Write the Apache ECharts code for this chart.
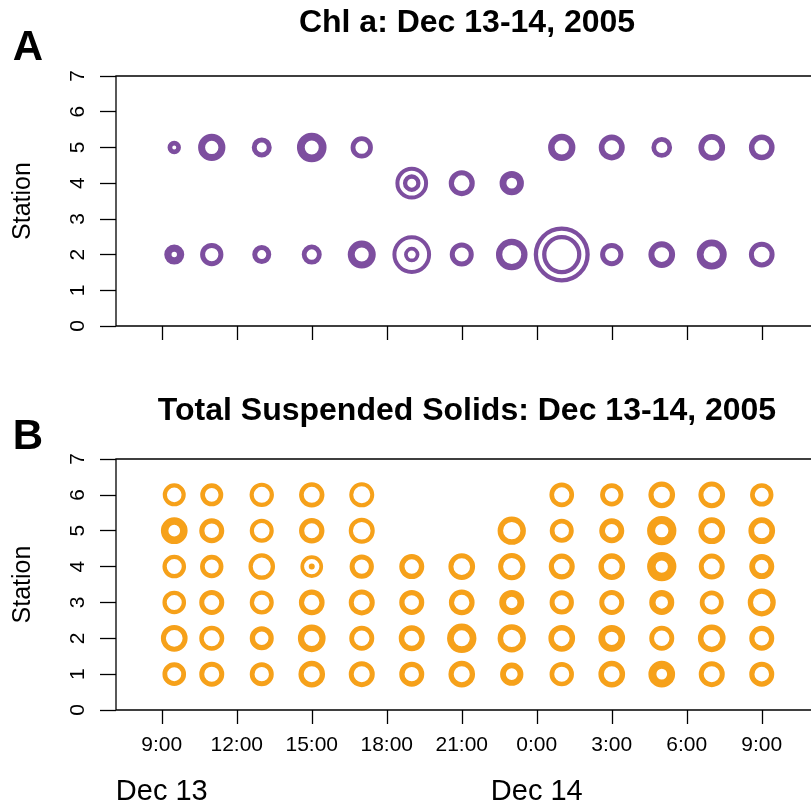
<!DOCTYPE html>
<html>
<head>
<meta charset="utf-8">
<script src="https://cdn.jsdelivr.net/npm/echarts@6/dist/echarts.min.js"></script>
<style>
  html, body { margin: 0; padding: 0; background: #ffffff; }
  #chart { width: 811px; height: 806px; }
</style>
</head>
<body>
<div id="chart"></div>
<script>
// Sampling times, hours since Dec 13 00:00
const hours = [9.5, 11, 13, 15, 17, 19, 21, 23, 25, 27, 29, 31, 33];

// Axis ticks along the time axis
const tickHours = [9, 12, 15, 18, 21, 24, 27, 30, 33];
const tickLabels = ['9:00', '12:00', '15:00', '18:00', '21:00', '0:00', '3:00', '6:00', '9:00'];
const dayHours = [9, 24];
const dayLabels = ['Dec 13', 'Dec 14'];

// Chl a rings: symbol scale (cex) and ring weight (lwd) per station, aligned with hours
const chlCex5 = [0.87, 2.03, 1.50, 2.18, 1.75, null, null, null, 2.08, 2.03, 1.60, 2.10, 2.02];
const chlLwd5 = [4.7, 7.0, 5.0, 7.8, 4.8, null, null, null, 6.5, 5.7, 4.7, 5.7, 5.5];
const chlCex4 = [null, null, null, null, null, 2.87, 2.08, 1.75, null, null, null, null, null];
const chlLwd4 = [null, null, null, null, null, 4.0, 5.2, 6.8, null, null, null, null, null];
const chlCex4b = [null, null, null, null, null, 1.33, null, null, null, null, null, null, null];
const chlLwd4b = [null, null, null, null, null, 4.3, null, null, null, null, null, null, null];
const chlCex2 = [1.27, 1.83, 1.40, 1.52, 2.10, 3.47, 1.90, 2.53, 5.17, 1.83, 2.07, 2.32, 2.07];
const chlLwd2 = [7.3, 5.0, 5.0, 4.8, 7.0, 4.0, 5.0, 6.3, 4.3, 5.0, 6.0, 6.8, 5.0];
const chlCex2b = [null, null, null, null, null, 1.17, null, null, 3.50, null, null, null, null];
const chlLwd2b = [null, null, null, null, null, 3.7, null, null, 4.3, null, null, null, null];

// Total suspended solids rings per station
const tssCex6 = [1.88, 1.83, 2.02, 2.07, 2.10, null, null, null, 2.00, 1.85, 2.15, 2.17, 1.87];
const tssLwd6 = [4.2, 4.7, 4.2, 4.7, 4.0, null, null, null, 4.7, 4.8, 5.2, 5.0, 4.7];
const tssCex5 = [1.92, 1.98, 1.98, 2.02, 2.18, null, null, 2.28, 1.92, 1.93, 2.13, 2.10, 2.10];
const tssLwd5 = [7.5, 5.2, 4.2, 5.2, 4.2, null, null, 5.5, 4.8, 5.7, 8.0, 5.7, 5.7];
const tssCex4 = [1.93, 1.87, 2.23, 1.90, 1.93, 1.97, 2.17, 2.23, 2.08, 2.12, 2.08, 2.10, 1.92];
const tssLwd4 = [4.3, 4.7, 4.3, 3.7, 5.0, 5.3, 5.0, 5.0, 5.2, 5.5, 8.5, 5.0, 5.8];
const tssCex4b = [null, null, null, 0.30, null, null, null, null, null, null, null, null, null];
const tssLwd4b = [null, null, null, 3.0, null, null, null, null, null, null, null, null, null];
const tssCex3 = [1.93, 2.00, 1.97, 2.05, 2.10, 1.97, 2.05, 1.82, 1.93, 2.00, 1.87, 1.92, 2.27];
const tssLwd3 = [4.3, 5.0, 4.3, 5.2, 5.0, 5.3, 5.2, 6.8, 5.0, 5.0, 6.3, 4.8, 5.3];
const tssCex2 = [2.17, 2.05, 1.87, 2.15, 2.02, 2.05, 2.27, 2.28, 2.12, 2.00, 2.02, 2.22, 1.98];
const tssLwd2 = [5.0, 4.5, 5.3, 6.2, 4.8, 5.5, 6.7, 5.5, 5.5, 6.7, 4.8, 5.5, 5.2];
const tssCex1 = [1.88, 2.00, 1.92, 2.13, 2.10, 1.97, 2.13, 1.75, 1.97, 2.12, 1.87, 2.10, 1.98];
const tssLwd1 = [4.8, 5.0, 4.8, 5.3, 5.0, 5.3, 5.3, 5.8, 4.7, 5.5, 8.0, 5.0, 5.2];

const FONT = '"Liberation Sans", Arial, Helvetica, sans-serif';
const PURPLE = '#7d4e9f';
const ORANGE = '#f6a11a';
const CEX_PX = 10;   // pixels per unit of symbol scale
const X_MIN = 7.17;
const X_MAX = 35.37;
const PLOT_W = 705;  // plot box runs past the right edge of the canvas

function rings(station, cex, lwd, color) {
  const out = [];
  hours.forEach((h, i) => {
    if (cex[i] == null) return;
    out.push({
      value: [h, station],
      symbolSize: cex[i] * CEX_PX,
      itemStyle: { color: 'rgba(0,0,0,0)', borderColor: color, borderWidth: lwd[i], opacity: 1 }
    });
  });
  return out;
}

const chlData = [].concat(
  rings(5, chlCex5, chlLwd5, PURPLE),
  rings(4, chlCex4, chlLwd4, PURPLE),
  rings(4, chlCex4b, chlLwd4b, PURPLE),
  rings(2, chlCex2, chlLwd2, PURPLE),
  rings(2, chlCex2b, chlLwd2b, PURPLE)
);
const tssData = [].concat(
  rings(6, tssCex6, tssLwd6, ORANGE),
  rings(5, tssCex5, tssLwd5, ORANGE),
  rings(4, tssCex4, tssLwd4, ORANGE),
  rings(4, tssCex4b, tssLwd4b, ORANGE),
  rings(3, tssCex3, tssLwd3, ORANGE),
  rings(2, tssCex2, tssLwd2, ORANGE),
  rings(1, tssCex1, tssLwd1, ORANGE)
);

function yAxisFor(gridIndex) {
  return {
    type: 'value', gridIndex: gridIndex, min: 0, max: 7, interval: 1,
    name: 'Station', nameLocation: 'middle', nameGap: 80, nameRotate: 90,
    nameTextStyle: { fontFamily: FONT, fontSize: 25, color: '#000' },
    axisLine: { show: false },
    splitLine: { show: false },
    axisTick: { show: true, inside: false, length: 16, lineStyle: { color: '#000', width: 1.3 } },
    axisLabel: { rotate: 90, margin: 27, fontFamily: FONT, fontSize: 21, color: '#000' }
  };
}

function gridAt(top, height) {
  return {
    left: 116, width: PLOT_W, top: top, height: height,
    outerBoundsMode: 'none', containLabel: false,
    show: true, borderColor: '#000', borderWidth: 1.3, backgroundColor: 'rgba(0,0,0,0)'
  };
}

const chart = echarts.init(document.getElementById('chart'), null, { renderer: 'canvas' });
chart.setOption({
  animation: false,
  backgroundColor: '#ffffff',
  grid: [gridAt(76, 250), gridAt(459, 251)],
  xAxis: [
    {
      type: 'value', gridIndex: 0, position: 'bottom', min: X_MIN, max: X_MAX,
      axisLine: { show: false }, splitLine: { show: false },
      axisTick: { show: true, customValues: tickHours, length: 14, lineStyle: { color: '#000', width: 1.3 } },
      axisLabel: { show: false }
    },
    {
      type: 'value', gridIndex: 1, position: 'bottom', min: X_MIN, max: X_MAX,
      axisLine: { show: false }, splitLine: { show: false },
      axisTick: { show: true, customValues: tickHours, length: 14, lineStyle: { color: '#000', width: 1.3 } },
      axisLabel: {
        customValues: tickHours, margin: 25, fontFamily: FONT, fontSize: 21, color: '#000',
        formatter: v => tickLabels[tickHours.indexOf(v)]
      }
    },
    {
      type: 'value', gridIndex: 1, position: 'bottom', offset: 0, min: X_MIN, max: X_MAX,
      axisLine: { show: false }, splitLine: { show: false }, axisTick: { show: false },
      axisLabel: {
        customValues: dayHours, margin: 67, fontFamily: FONT, fontSize: 29, color: '#000',
        formatter: v => dayLabels[dayHours.indexOf(v)]
      }
    }
  ],
  yAxis: [yAxisFor(0), yAxisFor(1)],
  series: [
    { type: 'scatter', xAxisIndex: 0, yAxisIndex: 0, symbol: 'circle', data: chlData, silent: true },
    { type: 'scatter', xAxisIndex: 1, yAxisIndex: 1, symbol: 'circle', data: tssData, silent: true }
  ],
  graphic: [
    { type: 'text', x: 467, y: 23, style: { text: 'Chl a: Dec 13-14, 2005', font: 'bold 32px ' + FONT, fill: '#000', textAlign: 'center', textVerticalAlign: 'middle' } },
    { type: 'text', x: 467, y: 411, style: { text: 'Total Suspended Solids: Dec 13-14, 2005', font: 'bold 32px ' + FONT, fill: '#000', textAlign: 'center', textVerticalAlign: 'middle' } },
    { type: 'text', x: 28, y: 48, style: { text: 'A', font: 'bold 42px ' + FONT, fill: '#000', textAlign: 'center', textVerticalAlign: 'middle' } },
    { type: 'text', x: 28, y: 437, style: { text: 'B', font: 'bold 42px ' + FONT, fill: '#000', textAlign: 'center', textVerticalAlign: 'middle' } }
  ]
});
</script>
</body>
</html>
